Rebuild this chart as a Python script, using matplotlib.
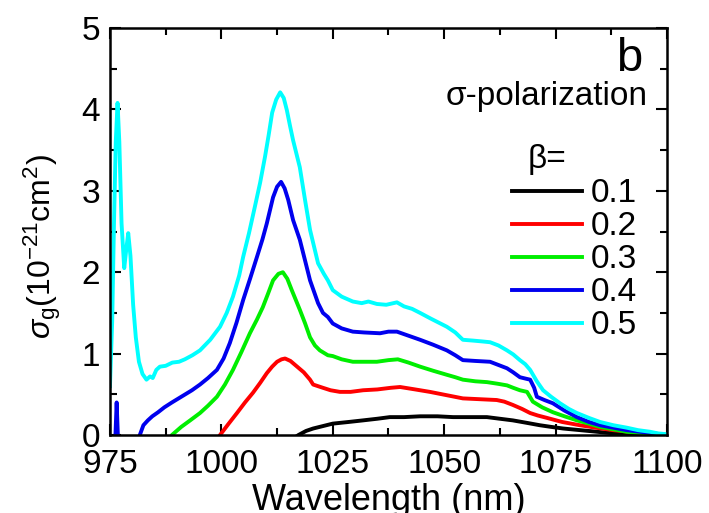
import matplotlib
matplotlib.use("Agg")
import matplotlib.pyplot as plt
import matplotlib.ticker as mticker

# ── data (wavelength nm, sigma_g 1e-21 cm^2) ─────────────────────────────────
wl_05 = [975.0, 975.5, 975.9, 976.3, 976.7, 977.1, 977.6, 978.2, 978.7, 979.1,
         979.6, 980.2, 980.8, 981.5, 982.3, 983.2, 984.0, 984.6, 985.4, 986.2,
         987.5, 989.0, 990.5, 991.8, 993.5, 995.2, 997.5, 999.7, 1001.2, 1002.6,
         1004.0, 1004.9, 1006.2, 1007.5, 1008.7, 1009.8, 1010.6, 1011.4, 1012.3,
         1013.2, 1014.0, 1014.7, 1015.4, 1016.1, 1017.6, 1018.8, 1019.9, 1021.7,
         1023.0, 1023.9, 1025.0, 1027.0, 1029.5, 1031.5, 1033.0, 1034.9, 1037.0,
         1039.4, 1041.0, 1042.8, 1044.6, 1047.0, 1050.6, 1052.5, 1054.2, 1056.5,
         1058.5, 1060.3, 1062.2, 1064.1, 1065.5, 1067.0, 1068.2, 1069.3, 1070.8,
         1072.2, 1074.0, 1076.0, 1078.0, 1079.8, 1082.5, 1085.0, 1088.0, 1091.0,
         1093.5, 1096.2, 1098.0, 1100.0]
sg_05 = [0.60, 1.40, 2.60, 3.60, 4.08, 3.60, 2.60, 2.05, 2.30, 2.48,
         2.20, 1.60, 1.20, 0.90, 0.75, 0.68, 0.72, 0.70, 0.80, 0.84,
         0.85, 0.89, 0.90, 0.93, 0.98, 1.04, 1.17, 1.33, 1.50, 1.70,
         1.96, 2.19, 2.48, 2.80, 3.10, 3.42, 3.68, 3.96, 4.12,
         4.21, 4.14, 3.99, 3.80, 3.62, 3.29, 2.88, 2.52, 2.11,
         1.98, 1.90, 1.78, 1.70, 1.64, 1.62, 1.64, 1.61, 1.60,
         1.63, 1.58, 1.55, 1.50, 1.43, 1.33, 1.26, 1.17, 1.16,
         1.15, 1.14, 1.10, 1.04, 0.99, 0.92, 0.87, 0.80, 0.66,
         0.55, 0.47, 0.39, 0.32, 0.27, 0.21, 0.16, 0.12, 0.09,
         0.06, 0.04, 0.02, 0.01]

wl_04 = [975.0, 975.8, 976.2, 976.5, 976.8, 977.2, 978.0, 979.1, 980.2, 981.0,
         981.7, 982.5, 983.5, 984.5, 985.8, 987.2, 988.9, 991.0, 993.4, 995.2,
         997.0, 999.0, 1000.5, 1001.9, 1003.4, 1004.9, 1006.5, 1008.0, 1009.2,
         1010.2, 1011.6, 1012.5, 1013.4, 1014.2, 1015.0, 1016.1, 1017.6, 1018.8,
         1019.9, 1021.7, 1022.8, 1023.9, 1025.0, 1027.0, 1029.5, 1032.0, 1035.6,
         1037.5, 1039.4, 1042.0, 1044.6, 1047.5, 1050.6, 1052.5, 1054.2, 1057.0,
         1060.3, 1062.2, 1064.1, 1065.5, 1067.0, 1068.5, 1069.3, 1070.2, 1070.8,
         1072.5, 1074.4, 1077.0, 1079.8, 1082.5, 1085.0, 1088.0, 1091.0, 1094.0,
         1097.0, 1100.0]
sg_04 = [-1.60, -0.60, -0.05, 0.40, -0.05, -0.60, -1.20, -0.90, -0.60, -0.30,
         0.00, 0.12, 0.18, 0.23, 0.28, 0.34, 0.40, 0.47, 0.55, 0.62,
         0.70, 0.80, 0.94, 1.13, 1.38, 1.66, 1.93, 2.19, 2.40,
         2.60, 2.92, 3.05, 3.11, 3.03, 2.89, 2.64, 2.40, 2.14,
         1.90, 1.62, 1.50, 1.45, 1.37, 1.31, 1.27, 1.26, 1.25,
         1.27, 1.27, 1.22, 1.17, 1.11, 1.04, 0.98, 0.92, 0.91,
         0.90, 0.86, 0.82, 0.77, 0.71, 0.69, 0.68, 0.58, 0.47,
         0.43, 0.39, 0.30, 0.22, 0.16, 0.12, 0.09, 0.06, 0.04,
         0.02, 0.00]

wl_03 = [985.0, 988.9, 991.0, 993.0, 995.2, 997.0, 999.0, 1000.8, 1002.6,
         1004.5, 1006.4, 1008.0, 1009.3, 1010.5, 1011.6, 1012.8, 1013.8, 1014.8,
         1015.8, 1016.7, 1017.6, 1018.8, 1019.9, 1021.0, 1022.1, 1023.9, 1025.0,
         1027.0, 1029.5, 1032.0, 1034.9, 1037.5, 1039.6, 1042.0, 1044.6, 1047.5,
         1050.6, 1052.5, 1054.2, 1057.0, 1059.6, 1062.0, 1064.1, 1065.5, 1067.0,
         1068.6, 1069.9, 1072.0, 1074.4, 1077.0, 1079.8, 1082.5, 1085.0, 1088.0,
         1091.0, 1095.0, 1100.0]
sg_03 = [-0.40, 0.00, 0.10, 0.18, 0.27, 0.36, 0.47, 0.62, 0.80,
         1.02, 1.25, 1.42, 1.57, 1.74, 1.90, 1.98, 2.00, 1.92,
         1.78, 1.66, 1.54, 1.37, 1.20, 1.10, 1.04, 0.98, 0.97,
         0.93, 0.90, 0.90, 0.90, 0.92, 0.93, 0.89, 0.84, 0.79,
         0.74, 0.71, 0.68, 0.66, 0.65, 0.63, 0.61, 0.58, 0.55,
         0.53, 0.41, 0.34, 0.28, 0.23, 0.18, 0.14, 0.10, 0.07,
         0.04, 0.02, 0.00]

wl_02 = [996.0, 999.7, 1001.5, 1003.5, 1005.3, 1007.1, 1008.7, 1010.2, 1011.4,
         1012.5, 1013.5, 1014.3, 1015.5, 1017.0, 1018.5, 1019.9, 1020.6, 1022.8,
         1024.5, 1026.6, 1029.0, 1031.8, 1035.0, 1038.0, 1040.1, 1043.5, 1046.8,
         1050.5, 1054.2, 1058.0, 1061.8, 1063.5, 1065.4, 1067.5, 1069.3, 1071.0,
         1073.1, 1076.5, 1080.5, 1084.0, 1087.9, 1091.5, 1095.5, 1100.0]
sg_02 = [-0.40, 0.00, 0.13, 0.27, 0.40, 0.52, 0.64, 0.76, 0.84,
         0.90, 0.93, 0.94, 0.91, 0.84, 0.77, 0.68, 0.62, 0.58,
         0.55, 0.53, 0.53, 0.55, 0.56, 0.58, 0.59, 0.56, 0.53,
         0.49, 0.45, 0.44, 0.43, 0.41, 0.37, 0.32, 0.27, 0.24,
         0.21, 0.16, 0.12, 0.09, 0.06, 0.04, 0.02, 0.00]

wl_01 = [1012.0, 1017.3, 1019.0, 1020.6, 1022.8, 1025.0, 1028.5, 1031.8, 1035.0,
         1037.8, 1041.0, 1044.6, 1048.5, 1052.0, 1056.0, 1059.6, 1062.5, 1065.4,
         1068.5, 1071.5, 1074.0, 1076.7, 1080.5, 1084.3, 1088.0, 1091.7, 1096.0,
         1100.0]
sg_01 = [-0.20, 0.00, 0.05, 0.08, 0.11, 0.14, 0.16, 0.18, 0.20,
         0.22, 0.22, 0.23, 0.23, 0.22, 0.22, 0.22, 0.20, 0.18,
         0.15, 0.12, 0.10, 0.08, 0.06, 0.04, 0.02, 0.01, 0.00,
         0.00]

betas = ["0.1", "0.2", "0.3", "0.4", "0.5"]
colors = ["black", "#ff0000", "#00ee00", "#0000ee", "#00ffff"]

plt.rcParams.update({
    "font.family": ["Liberation Sans", "DejaVu Sans"],
    "mathtext.fontset": "custom",
    "mathtext.rm": "Liberation Sans",
    "mathtext.it": "Liberation Sans:italic",
    "xtick.direction": "in",
    "ytick.direction": "in",
})

fig = plt.figure(figsize=(7.09, 5.13), dpi=100)
ax = fig.add_axes([0.1551, 0.152, 0.7856, 0.7934])

series = [(wl_01, sg_01), (wl_02, sg_02), (wl_03, sg_03), (wl_04, sg_04), (wl_05, sg_05)]
for (wl, sg), lab, c in zip(series, betas, colors):
    ax.plot(wl, sg, color=c, lw=2.8, label=lab, solid_joinstyle="round")

ax.set_xlim(975, 1100)
ax.set_ylim(0, 5)
ax.xaxis.set_major_locator(mticker.MultipleLocator(25))
ax.xaxis.set_minor_locator(mticker.MultipleLocator(12.5))
ax.yaxis.set_major_locator(mticker.MultipleLocator(1))
ax.yaxis.set_minor_locator(mticker.MultipleLocator(0.5))
ax.tick_params(which="both", top=True, right=True, width=1.5, labelsize=24)
ax.tick_params(axis="x", pad=10)
ax.tick_params(axis="y", pad=7)
ax.tick_params(which="major", length=8)
ax.tick_params(which="minor", length=5)
for s in ax.spines.values():
    s.set_linewidth(1.8)

ax.set_xlabel("Wavelength (nm)", fontsize=26, labelpad=2)
ax.set_ylabel(r"$\sigma_{\rm g}$(10$^{-21}$cm$^2$)", fontsize=23)
ax.yaxis.set_label_coords(-0.085, 0.462)

ax.text(0.955, 0.978, "b", transform=ax.transAxes, ha="right", va="top", fontsize=34)
ax.text(0.966, 0.811, "σ-polarization", transform=ax.transAxes, ha="right",
        va="baseline", fontsize=24)
ax.text(0.785, 0.656, "β=", transform=ax.transAxes, ha="center", va="baseline",
        fontsize=24)

leg = ax.legend(loc="upper left", bbox_to_anchor=(0.722, 0.631), frameon=False,
                fontsize=24, handlelength=2.1, handletextpad=0.27,
                labelspacing=0.06, borderpad=0.0, borderaxespad=0.0)

fig.savefig("out.png", dpi=100)
